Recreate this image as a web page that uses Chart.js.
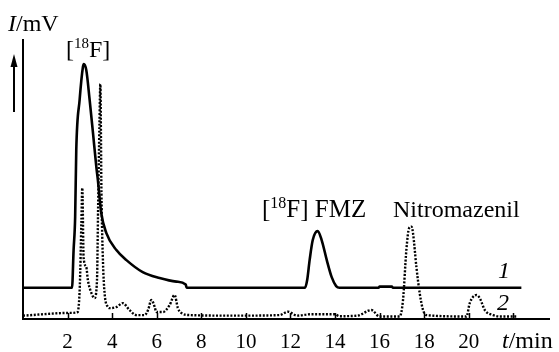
<!DOCTYPE html>
<html>
<head>
<meta charset="utf-8">
<script src="https://cdn.jsdelivr.net/npm/chart.js@4/dist/chart.umd.min.js"></script>
<style>
html,body{margin:0;padding:0;background:#fff;}
#wrap{position:relative;width:559px;height:352px;}
</style>
</head>
<body>
<div id="wrap"><canvas id="c" width="559" height="352"></canvas></div>
<script>
// ---- data ----
const xTicks = [2, 4, 6, 8, 10, 12, 14, 16, 18, 20, 22];
const xTickLabels = ['2', '4', '6', '8', '10', '12', '14', '16', '18', '20', ''];

// curve 1 (solid): time in min, signal (arbitrary mV units)
const time1 = [0, 2.2, 2.27, 2.34, 2.39, 2.54, 2.69, 2.73, 2.84, 2.99, 3.14, 3.29, 3.36, 3.51, 3.74, 4.19, 4.64, 5.37, 6.13, 6.88, 7.3, 7.34,
  12.65, 12.75, 12.86, 13.0, 13.22, 13.4, 13.63, 13.85, 14.05, 14.2, 15.95, 16.0, 16.55, 16.6, 22.36];
const signal1 = [11.2, 11.2, 24.7, 36.6, 60.6, 78.5, 90.4, 91.4, 89.2, 78.5, 66.7, 54.5, 49.8, 38, 30.8, 24.7, 21.1, 16.8, 14.7, 13.4, 12.4, 11.2,
  11.2, 14, 21.1, 28.3, 31.5, 28.3, 21.1, 15, 11.8, 11.2, 11.2, 11.6, 11.6, 11.2, 11.2];

// curve 2 (dotted)
const time2 = [0, 2.17, 2.45, 2.55, 2.62, 2.66, 2.72, 2.84, 2.91, 3.07, 3.21, 3.32, 3.37, 3.43, 3.47, 3.52, 3.59, 3.66, 3.81, 3.89,
  4.19, 4.48, 4.78, 5.09, 5.46, 5.61, 5.76, 5.91, 5.98, 6.28, 6.58, 6.8, 6.95, 7.1, 7.48, 9.5, 11.5, 11.89, 12.3, 12.9, 14.0, 14.2,
  15.0, 15.63, 16.0, 16.9, 17.05, 17.2, 17.32, 17.43, 17.5, 17.65, 17.8, 17.95, 18.1, 19.9, 20.04, 20.35, 20.5, 20.72, 21.09, 21.4, 22.14];
const signal2 = [1.2, 2.2, 2.5, 12, 35, 47, 22, 18.6, 14, 9.3, 7.5, 14, 40, 70, 84.2, 45, 20.1, 9.3, 4.3, 3.9,
  4.3, 5.7, 3.2, 1.4, 1.4, 3.2, 6.8, 4.3, 2.5, 2.5, 5, 8.6, 3.9, 2.2, 1.4, 1.2, 1.4, 2.6, 1.2, 1.7, 1.7, 1.0,
  1.2, 3.2, 0.9, 0.9, 6.8, 24.7, 32.5, 33.1, 30.7, 18.7, 9.2, 3.2, 1.4, 0.9, 5.6, 8.6, 7.4, 3.2, 1.4, 0.9, 0.9];

const curveLabels = ['1', '2'];

const pts = (ts, vs) => ts.map((t, i) => ({x: t, y: vs[i]}));

const SERIF = '"Liberation Serif", "Times New Roman", serif';

function drawRich(ctx, x, y, parts, size) {
  let cx = x;
  ctx.textBaseline = 'alphabetic';
  ctx.textAlign = 'left';
  for (const p of parts) {
    const s = p.sup ? Math.round(size * 0.62) : size;
    ctx.font = (p.italic ? 'italic ' : '') + s + 'px ' + SERIF;
    ctx.fillText(p.text, cx, p.sup ? y - size * 0.36 : y);
    cx += ctx.measureText(p.text).width;
  }
}

const decor = {
  id: 'decor',
  afterDraw(chart) {
    const ctx = chart.ctx;
    const xs = chart.scales.x;
    const bottom = chart.chartArea.bottom;
    ctx.save();
    ctx.fillStyle = '#000';
    ctx.strokeStyle = '#000';
    // inward tick marks
    ctx.lineWidth = 1.5;
    for (const v of xTicks) {
      const px = Math.round(xs.getPixelForValue(v)) + 0.5;
      ctx.beginPath();
      ctx.moveTo(px, bottom - 6);
      ctx.lineTo(px, bottom + 1);
      ctx.stroke();
    }
    // arrow
    ctx.lineWidth = 2;
    ctx.beginPath();
    ctx.moveTo(14, 112);
    ctx.lineTo(14, 64);
    ctx.stroke();
    ctx.beginPath();
    ctx.moveTo(14, 54);
    ctx.lineTo(10.5, 67);
    ctx.lineTo(17.5, 67);
    ctx.closePath();
    ctx.fill();
    // texts
    drawRich(ctx, 8, 31, [{text: 'I', italic: true}, {text: '/mV'}], 24);
    drawRich(ctx, 66, 57, [{text: '['}, {text: '18', sup: true}, {text: 'F]'}], 24);
    drawRich(ctx, 262, 217, [{text: '['}, {text: '18', sup: true}, {text: 'F] FMZ'}], 25);
    drawRich(ctx, 393, 217, [{text: 'Nitromazenil'}], 24);
    drawRich(ctx, 498, 278, [{text: curveLabels[0], italic: true}], 24);
    drawRich(ctx, 497, 310, [{text: curveLabels[1], italic: true}], 24);
    drawRich(ctx, 502, 348, [{text: 't', italic: true}, {text: '/min'}], 24);
    ctx.restore();
  }
};

new Chart(document.getElementById('c'), {
  type: 'line',
  data: {
    datasets: [
      {label: curveLabels[0], data: pts(time1, signal1), borderColor: '#000', borderWidth: 2.6,
       pointRadius: 0, cubicInterpolationMode: 'monotone', fill: false},
      {label: curveLabels[1], data: pts(time2, signal2), borderColor: '#000', borderWidth: 2.4,
       borderDash: [2, 1.6], pointRadius: 0, cubicInterpolationMode: 'monotone', fill: false}
    ]
  },
  options: {
    responsive: false,
    animation: false,
    events: [],
    layout: {padding: {left: 23, right: 10, top: 40, bottom: -14}},
    plugins: {legend: {display: false}, tooltip: {enabled: false}},
    scales: {
      x: {
        type: 'linear', min: 0, max: 23.6,
        afterBuildTicks: (s) => { s.ticks = xTicks.map(v => ({value: v})); },
        ticks: {
          autoSkip: false, maxRotation: 0, padding: 13, color: '#000',
          font: {family: SERIF, size: 21, lineHeight: 1.0},
          callback: (v) => { const i = xTicks.indexOf(v); return i >= 0 ? xTickLabels[i] : ''; }
        },
        grid: {display: true, drawOnChartArea: false, drawTicks: false},
        border: {display: true, color: '#000', width: 2}
      },
      y: {
        type: 'linear', min: 0, max: 100,
        ticks: {display: false},
        grid: {display: false, drawTicks: false},
        border: {display: true, color: '#000', width: 2}
      }
    }
  },
  plugins: [decor]
});
</script>
</body>
</html>
